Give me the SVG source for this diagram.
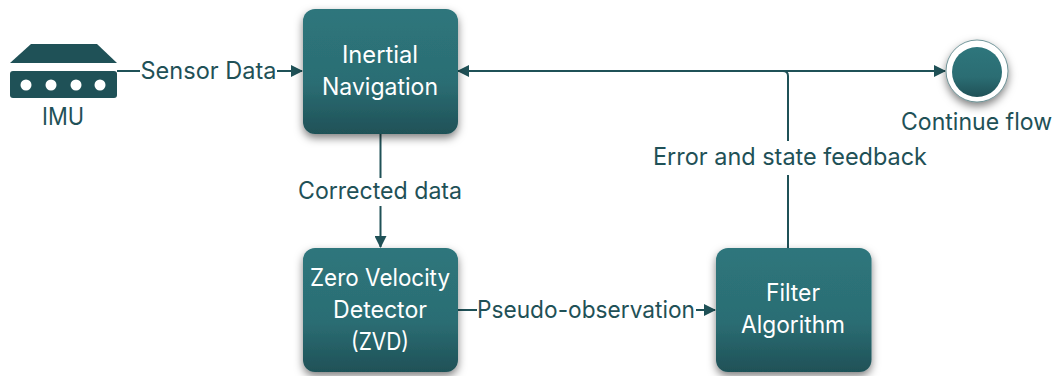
<svg xmlns="http://www.w3.org/2000/svg" width="1058" height="376" viewBox="0 0 1058 376">
<style>
text{font-family:Inter,Roboto,"Noto Sans",sans-serif;font-size:24px;text-anchor:middle}
.n{fill:#fff}
.l{fill:#1f5157}
.c{fill:none;stroke:#1f5157;stroke-width:2}
.b{fill:url(#g);filter:url(#s)}
</style>
<defs>
<linearGradient id="g" x1="0" y1="0" x2="0" y2="1"><stop offset="0" stop-color="#2e767c"/><stop offset="0.6" stop-color="#2b6d73"/><stop offset="1" stop-color="#1f5157"/></linearGradient>
<filter id="s" x="-20%" y="-20%" width="140%" height="140%"><feDropShadow dx="0" dy="4" stdDeviation="4" flood-color="#000" flood-opacity="0.5"/></filter>
<marker id="a" viewBox="0 0 12 12" refX="11" refY="6" markerWidth="12" markerHeight="12" markerUnits="userSpaceOnUse" orient="auto-start-reverse"><path d="M0 0L12 6L0 12Z" fill="#1f5157"/></marker>
</defs>
<g id="connectors">
<path class="c" d="M117 71H140"/>
<path class="c" d="M277 71H302" marker-end="url(#a)"/>
<path class="c" d="M380.500 134V178"/>
<path class="c" d="M380.500 206V247" marker-end="url(#a)"/>
<path class="c" d="M458 310H477"/>
<path class="c" d="M696 310H715" marker-end="url(#a)"/>
<path class="c" d="M458 71H945" marker-start="url(#a)" marker-end="url(#a)"/>
<path class="c" d="M788 248V175"/>
<path class="c" d="M788 141V76Q788 71 783 71"/>
<text class="l" x="208.500" y="79" textLength="136" lengthAdjust="spacingAndGlyphs">Sensor Data</text>
<text class="l" x="380" y="199" textLength="164" lengthAdjust="spacingAndGlyphs">Corrected data</text>
<text class="l" x="586" y="318" textLength="218" lengthAdjust="spacingAndGlyphs">Pseudo-observation</text>
<text class="l" x="790" y="165" textLength="274" lengthAdjust="spacingAndGlyphs">Error and state feedback</text>
</g>
<g id="imu">
<path d="M10 63L31 44H97L117 63Z" fill="#1f5157"/>
<rect x="10" y="71" width="107" height="27" rx="3" fill="#1f5157"/>
<g fill="#fff"><circle cx="26" cy="85" r="5.500"/><circle cx="51" cy="85" r="5.500"/><circle cx="76" cy="85" r="5.500"/><circle cx="100" cy="85" r="5.500"/></g>
<text class="l" x="63" y="125" textLength="42" lengthAdjust="spacingAndGlyphs">IMU</text>
</g>
<g id="inertial-navigation">
<rect class="b" x="303" y="9" width="155" height="125" rx="12"/>
<text class="n" x="380" y="63" textLength="76" lengthAdjust="spacingAndGlyphs">Inertial</text>
<text class="n" x="380" y="95" textLength="116" lengthAdjust="spacingAndGlyphs">Navigation</text>
</g>
<g id="zero-velocity-detector">
<rect class="b" x="303" y="248" width="155" height="124" rx="12"/>
<text class="n" x="380" y="286" textLength="140" lengthAdjust="spacingAndGlyphs">Zero Velocity</text>
<text class="n" x="380" y="318" textLength="94" lengthAdjust="spacingAndGlyphs">Detector</text>
<text class="n" x="380" y="350" textLength="58" lengthAdjust="spacingAndGlyphs">(ZVD)</text>
</g>
<g id="filter-algorithm">
<rect class="b" x="716" y="248" width="155.500" height="124" rx="12"/>
<text class="n" x="793" y="301" textLength="54" lengthAdjust="spacingAndGlyphs">Filter</text>
<text class="n" x="793" y="333" textLength="104" lengthAdjust="spacingAndGlyphs">Algorithm</text>
</g>
<g id="continue-flow">
<circle cx="977" cy="71" r="31" fill="#fff" stroke="#3c6d72" stroke-width="0.700" filter="url(#s)"/>
<circle cx="977" cy="72" r="25" fill="url(#g)"/>
<text class="l" x="976.500" y="130" textLength="151" lengthAdjust="spacingAndGlyphs">Continue flow</text>
</g>
</svg>
